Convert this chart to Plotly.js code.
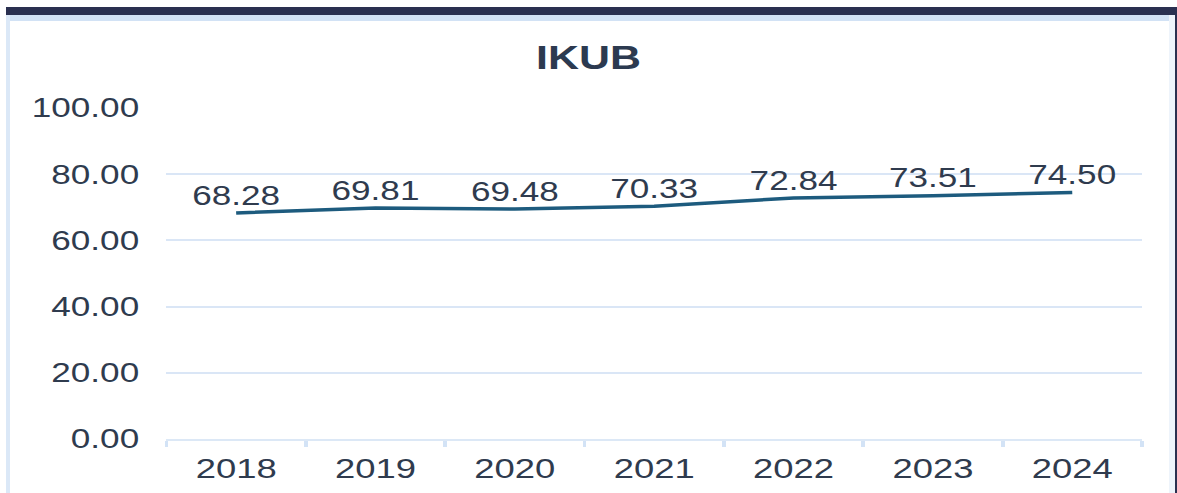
<!DOCTYPE html>
<html>
<head>
<meta charset="utf-8">
<script src="https://cdn.plot.ly/plotly-3.0.1.min.js"></script>
<style>
  html, body { margin: 0; padding: 0; background: #ffffff; overflow: hidden; }
  #wrap { position: relative; width: 1177px; height: 493px; overflow: hidden; background: #ffffff; }
  #chart { position: absolute; left: 0; top: 0; width: 905px; height: 493px; transform: scaleX(1.3006); transform-origin: 0 0; }
  .fr { position: absolute; pointer-events: none; }
</style>
</head>
<body>
<div id="wrap">
  <div id="chart"></div>
  <div class="fr" style="left:6px;top:7px;width:1171px;height:8px;background:#2a3050;"></div>
  <div class="fr" style="left:6px;top:15px;width:1163px;height:6px;background:#d2e2f5;"></div>
  <div class="fr" style="left:6px;top:15px;width:4px;height:478px;background:#dbe8f7;"></div>
  <div class="fr" style="left:1169px;top:15px;width:6px;height:478px;background:#eef4fb;"></div>
  <div class="fr" style="left:1175px;top:7px;width:2px;height:486px;background:#2a3050;"></div>
</div>
<script>
const years = ['2018', '2019', '2020', '2021', '2022', '2023', '2024'];
const ikub = [68.28, 69.81, 69.48, 70.33, 72.84, 73.51, 74.50];
const labels = ['68.28', '69.81', '69.48', '70.33', '72.84', '73.51', '74.50'];
const yTicks = [0, 20, 40, 60, 80, 100];
const yTickText = ['0.00', '20.00', '40.00', '60.00', '80.00', '100.00'];
const chartTitle = 'IKUB';

const textColor = '#2f3b4e';
const trace = {
  x: years,
  y: ikub,
  type: 'scatter',
  mode: 'lines+markers+text',
  line: { color: '#1d5b7e', width: 3.5 },
  marker: { size: 1, color: 'rgba(0,0,0,0)' },
  text: labels,
  textposition: 'top center',
  textfont: { family: 'Liberation Sans, Arial, sans-serif', size: 27, color: textColor },
  hoverinfo: 'x+y',
  cliponaxis: false
};

const layout = {
  width: 905,
  height: 493,
  margin: { l: 128, r: 27, t: 108, b: 54 },
  paper_bgcolor: 'rgba(0,0,0,0)',
  plot_bgcolor: 'rgba(0,0,0,0)',
  showlegend: false,
  title: {
    text: '<b>' + chartTitle + '</b>',
    font: { family: 'Liberation Sans, Arial, sans-serif', size: 33, color: '#2c3a50' },
    xref: 'container', x: 0.5, xanchor: 'center',
    yref: 'container', y: 1 - 57 / 493, yanchor: 'middle'
  },
  xaxis: {
    type: 'category',
    range: [-0.5, years.length - 0.5],
    autorange: false,
    showgrid: false,
    zeroline: false,
    showline: true,
    linecolor: '#dce8f6',
    linewidth: 2,
    ticks: 'outside',
    tickson: 'boundaries',
    ticklen: 6,
    tickwidth: 3,
    tickcolor: '#d3e3f6',
    ticklabelstandoff: 3,
    tickfont: { family: 'Liberation Sans, Arial, sans-serif', size: 28, color: textColor }
  },
  yaxis: {
    range: [0, 100],
    autorange: false,
    tickvals: yTicks,
    ticktext: yTickText,
    showgrid: true,
    gridcolor: '#dae6f6',
    gridwidth: 2,
    zeroline: false,
    showline: false,
    ticks: '',
    ticklabelstandoff: 20,
    tickfont: { family: 'Liberation Sans, Arial, sans-serif', size: 27, color: textColor }
  }
};

Plotly.newPlot('chart', [trace], layout, { displayModeBar: false, staticPlot: true });
</script>
</body>
</html>
